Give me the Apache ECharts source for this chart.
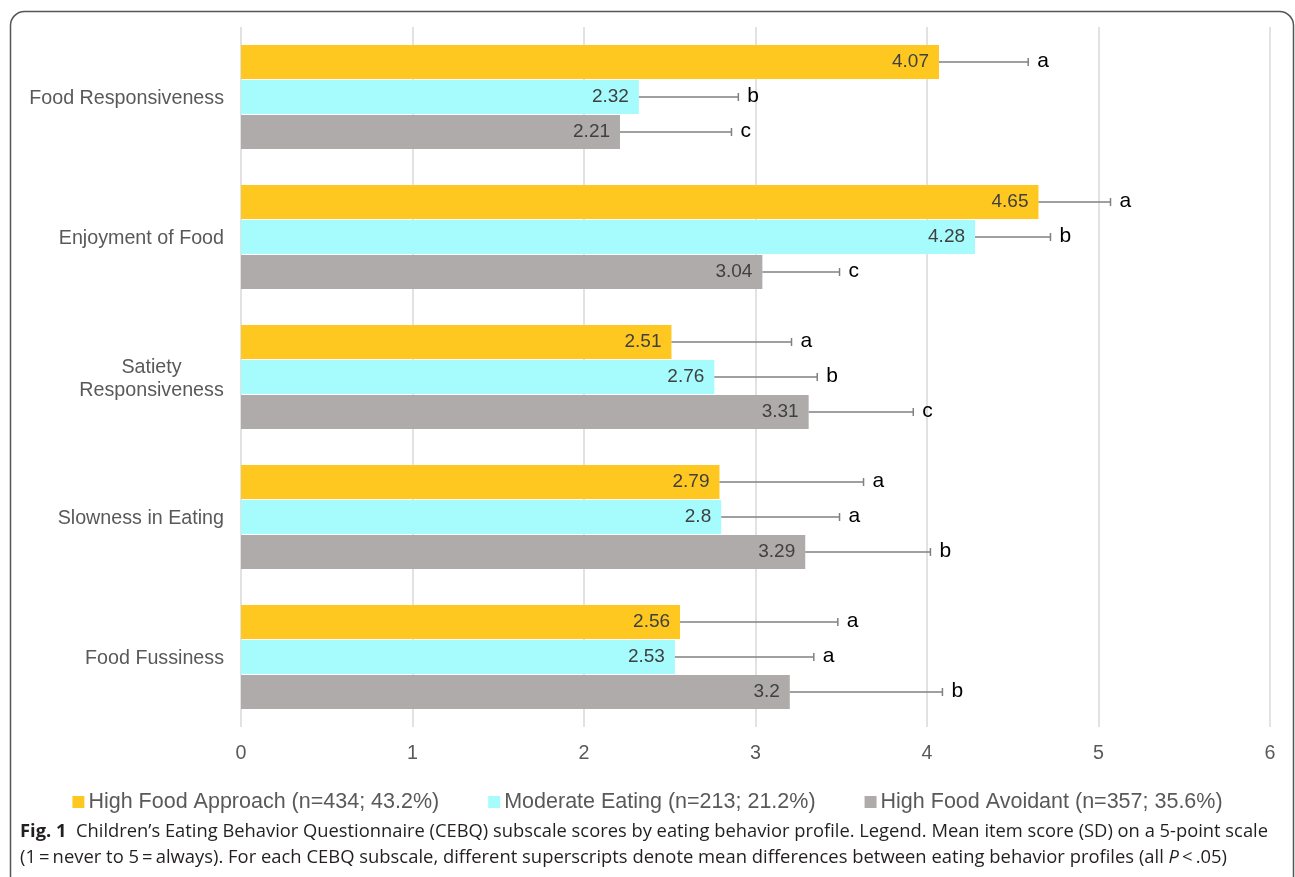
<!DOCTYPE html>
<html>
<head>
<meta charset="utf-8">
<script src="https://cdn.jsdelivr.net/npm/echarts@6/dist/echarts.min.js"></script>
<style>
html,body{margin:0;padding:0;background:#fff;}
#chart{width:1295px;height:877px;}
</style>
</head>
<body>
<div id="chart"></div>
<script>
const categories = ['Food Responsiveness', 'Enjoyment of Food', 'Satiety Responsiveness', 'Slowness in Eating', 'Food Fussiness'];
const seriesNames = ['High Food Approach (n=434; 43.2%)', 'Moderate Eating (n=213; 21.2%)', 'High Food Avoidant (n=357; 35.6%)'];
const approachMeans = [4.07, 4.65, 2.51, 2.79, 2.56];
const moderateMeans = [2.32, 4.28, 2.76, 2.8, 2.53];
const avoidantMeans = [2.21, 3.04, 3.31, 3.29, 3.2];
const approachSD = [0.52, 0.42, 0.70, 0.84, 0.92];
const moderateSD = [0.58, 0.44, 0.60, 0.69, 0.81];
const avoidantSD = [0.65, 0.45, 0.61, 0.73, 0.89];
const approachLetters = ['a', 'a', 'a', 'a', 'a'];
const moderateLetters = ['b', 'b', 'b', 'a', 'a'];
const avoidantLetters = ['c', 'c', 'c', 'b', 'b'];
const colors = ['#FFC820', '#A6FCFD', '#AFABAB'];
const captionBold = 'Fig. 1';
const captionLine1 = '  Children\u2019s Eating Behavior Questionnaire (CEBQ) subscale scores by eating behavior profile. Legend. Mean item score (SD) on a 5-point scale';
const captionLine2a = '(1\u2009=\u2009never to 5\u2009=\u2009always). For each CEBQ subscale, different superscripts denote mean differences between eating behavior profiles (all ';
const captionLine2b = 'P';
const captionLine2c = '\u2009<\u2009.05)';

const means = [approachMeans, moderateMeans, avoidantMeans];
const sds = [approachSD, moderateSD, avoidantSD];
const letters = [approachLetters, moderateLetters, avoidantLetters];

const BAR_W = 34, BAR_GAP = 1;
const FF = '"Liberation Sans", Arial, Helvetica, sans-serif';
const LBL = 19.7;
const chart = echarts.init(document.getElementById('chart'));

const capFont = '"Open Sans", "Noto Sans", sans-serif';
const CAP_SIZE = 18;
const cv = document.createElement('canvas').getContext('2d');
function mw(txt, weight, style) {
  cv.font = (style || 'normal') + ' ' + (weight || 'normal') + ' ' + CAP_SIZE + 'px ' + capFont;
  return cv.measureText(txt).width;
}
const w1 = mw(captionBold, 'bold') + mw(captionLine1);
const w2 = mw(captionLine2a) + mw(captionLine2b, 'normal', 'italic') + mw(captionLine2c);
const sx1 = 1248 / w1, sx2 = 1207 / w2;
cv.font = LBL + 'px ' + FF;
const respW = Math.ceil(cv.measureText('Responsiveness').width);

const barSeries = seriesNames.map((name, g) => ({
  name: name,
  type: 'bar',
  data: means[g],
  barWidth: BAR_W,
  barGap: (BAR_GAP / BAR_W * 100) + '%',
  itemStyle: { color: colors[g] },
  label: {
    show: true,
    position: 'insideRight',
    distance: 10,
    color: '#404040',
    fontSize: 19,
    fontFamily: FF
  }
}));

const errSeries = seriesNames.map((name, g) => ({
  type: 'custom',
  name: 'err' + g,
  data: means[g].map((m, i) => [m, i, sds[g][i]]),
  encode: { x: 0, y: 1 },
  z: 5,
  clip: false,
  renderItem: function (params, api) {
    const m = api.value(0), c = api.value(1), sd = api.value(2);
    const p0 = api.coord([m, c]);
    const p1 = api.coord([m + sd, c]);
    const y = p0[1] + (g - 1) * (BAR_W + BAR_GAP);
    return {
      type: 'group',
      children: [
        { type: 'line', shape: { x1: p0[0], y1: y, x2: p1[0], y2: y }, style: { stroke: '#808080', lineWidth: 1.5 } },
        { type: 'line', shape: { x1: p1[0], y1: y - 4, x2: p1[0], y2: y + 4 }, style: { stroke: '#808080', lineWidth: 1.5 } },
        { type: 'text', x: p1[0] + 9, y: y - 1, style: { text: letters[g][params.dataIndex], fill: '#000', font: '21px ' + FF, textAlign: 'left', textVerticalAlign: 'middle' } }
      ]
    };
  }
}));

const option = {
  animation: false,
  textStyle: { fontFamily: FF },
  grid: { left: 241, right: 25, top: 27, bottom: 150, containLabel: false },
  xAxis: {
    type: 'value', min: 0, max: 6, interval: 1,
    axisLine: { show: false }, axisTick: { show: false },
    splitLine: { show: true, lineStyle: { color: '#D9D9D9', width: 1.5 } },
    axisLabel: { fontSize: LBL, color: '#595959', margin: 17, fontFamily: FF }
  },
  yAxis: {
    type: 'category', data: categories, inverse: true,
    axisLine: { show: false }, axisTick: { show: false },
    axisLabel: {
      fontSize: LBL, color: '#595959', margin: 17, lineHeight: 23, fontFamily: FF,
      padding: [4, 0, 0, 0],
      formatter: function (v) {
        if (v === 'Satiety Responsiveness') return '{s|Satiety}\n{s|Responsiveness}';
        return v;
      },
      rich: { s: { fontSize: LBL, color: '#595959', width: respW, align: 'center', lineHeight: 23, fontFamily: FF } }
    }
  },
  legend: {
    data: seriesNames, top: 786, left: 'center', icon: 'rect',
    itemWidth: 12, itemHeight: 12, itemGap: 49,
    textStyle: { fontSize: 21.5, color: '#595959', fontFamily: FF, padding: [0, 0, 0, -1] }
  },
  series: barSeries.concat(errSeries),
  graphic: [
    { type: 'rect', silent: true, shape: { x: 10.5, y: 11.5, width: 1283, height: 890, r: 14 }, style: { fill: 'none', stroke: '#555', lineWidth: 1.5 } },
    { type: 'text', x: 20, y: 832, scaleX: sx1, style: {
        text: '{b|' + captionBold + '}' + captionLine1,
        font: CAP_SIZE + 'px ' + capFont, fill: '#231F20', textVerticalAlign: 'middle',
        rich: { b: { fontWeight: 'bold', fontSize: CAP_SIZE, fontFamily: capFont, fill: '#231F20' } }
      } },
    { type: 'text', x: 20, y: 858, scaleX: sx2, style: {
        text: captionLine2a + '{i|' + captionLine2b + '}' + captionLine2c,
        font: CAP_SIZE + 'px ' + capFont, fill: '#231F20', textVerticalAlign: 'middle',
        rich: { i: { fontStyle: 'italic', fontSize: CAP_SIZE, fontFamily: capFont, fill: '#231F20' } }
      } }
  ]
};
chart.setOption(option);
</script>
</body>
</html>
